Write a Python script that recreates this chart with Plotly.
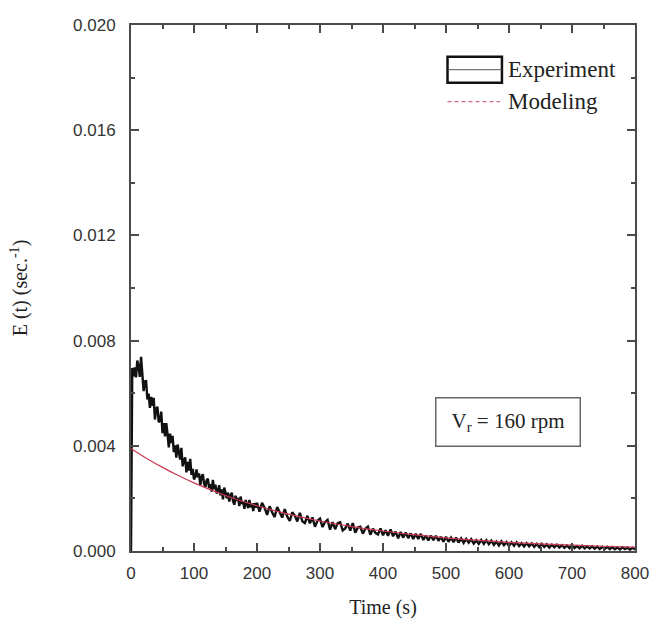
import plotly.graph_objects as go

# Residence time distribution E(t) at V_r = 160 rpm

# Experimental tracer response: sampling times (s) and E(t) (1/s)
exp_time = [0, 1] + list(range(2, 201, 2)) + list(range(204, 801, 4))
exp_e = [
    0.0000, 0.0063,
    # 2 .. 100 s
    0.00696, 0.00664, 0.00698, 0.00660, 0.00724, 0.00704, 0.00662, 0.00738, 0.00648, 0.00608,
    0.00645, 0.00646, 0.00576, 0.00598, 0.00544, 0.00586, 0.00552, 0.00582, 0.00500, 0.00542,
    0.00548, 0.00490, 0.00496, 0.00530, 0.00448, 0.00486, 0.00436, 0.00486, 0.00444, 0.00394,
    0.00446, 0.00410, 0.00438, 0.00376, 0.00402, 0.00355, 0.00405, 0.00381, 0.00348, 0.00392,
    0.00322, 0.00344, 0.00356, 0.00299, 0.00339, 0.00306, 0.00350, 0.00289, 0.00312, 0.00272,
    # 102 .. 200 s
    0.00283, 0.00310, 0.00280, 0.00295, 0.00250, 0.00282, 0.00292, 0.00256, 0.00243, 0.00268,
    0.00275, 0.00239, 0.00254, 0.00226, 0.00270, 0.00235, 0.00252, 0.00219, 0.00228, 0.00250,
    0.00212, 0.00234, 0.00196, 0.00241, 0.00220, 0.00201, 0.00222, 0.00188, 0.00210, 0.00222,
    0.00189, 0.00176, 0.00210, 0.00191, 0.00202, 0.00171, 0.00207, 0.00179, 0.00188, 0.00160,
    0.00194, 0.00181, 0.00163, 0.00194, 0.00166, 0.00181, 0.00152, 0.00182, 0.00165, 0.00183,
    # 204 .. 800 s
    0.00150, 0.00183, 0.00165, 0.00137, 0.00170, 0.00147, 0.00129, 0.00167, 0.00149, 0.00127,
    0.00159, 0.00131, 0.00114, 0.00147, 0.00135, 0.00112, 0.00145, 0.00113, 0.00106, 0.00134,
    0.00105, 0.00128, 0.00092, 0.00115, 0.00123, 0.00091, 0.00110, 0.00118, 0.00081, 0.00110,
    0.00083, 0.00106, 0.00109, 0.00078, 0.00086, 0.00104, 0.00078, 0.00106, 0.00070, 0.00089,
    0.00092, 0.00066, 0.00085, 0.00093, 0.00062, 0.00085, 0.00069, 0.00063, 0.00086, 0.00060,
    0.00079, 0.00058, 0.00082, 0.00056, 0.00074, 0.00048, 0.00072, 0.00051, 0.00070, 0.00049,
    0.00067, 0.00046, 0.00065, 0.00046, 0.00065, 0.00042, 0.00059, 0.00040, 0.00059, 0.00041,
    0.00058, 0.00039, 0.00054, 0.00035, 0.00054, 0.00035, 0.00051, 0.00034, 0.00051, 0.00032,
    0.00048, 0.00031, 0.00046, 0.00032, 0.00045, 0.00028, 0.00041, 0.00027, 0.00042, 0.00027,
    0.00041, 0.00026, 0.00039, 0.00023, 0.00036, 0.00021, 0.00037, 0.00022, 0.00034, 0.00019,
    0.00033, 0.00020, 0.00033, 0.00019, 0.00030, 0.00017, 0.00030, 0.00018, 0.00029, 0.00016,
    0.00027, 0.00015, 0.00027, 0.00015, 0.00025, 0.00013, 0.00024, 0.00014, 0.00024, 0.00013,
    0.00022, 0.00012, 0.00021, 0.00011, 0.00023, 0.00011, 0.00019, 0.00010, 0.00020, 0.00010,
    0.00018, 0.00010, 0.00018, 0.00009, 0.00017, 0.00007, 0.00016, 0.00008, 0.00016, 0.00007,
    0.00015, 0.00007, 0.00013, 0.00006, 0.00014, 0.00007, 0.00013, 0.00005, 0.00012, 0.00006,
]

# Model prediction
model_time = [0, 25, 50, 75, 100, 150, 200, 250, 300, 350, 400,
              450, 500, 550, 600, 650, 700, 750, 800]
model_e = [0.0039, 0.00352, 0.00318, 0.00287, 0.00259, 0.00211, 0.00172, 0.00140,
           0.00114, 0.00093, 0.00076, 0.00062, 0.00050, 0.00041, 0.00033,
           0.00027, 0.00022, 0.00018, 0.00015]

x_ticks = [0, 100, 200, 300, 400, 500, 600, 700, 800]
y_ticks = [0.000, 0.004, 0.008, 0.012, 0.016, 0.020]

SERIF = "Liberation Serif, Times New Roman, serif"
SANS = "Liberation Sans, Arial, sans-serif"
AXIS_COLOR = "#4a4a4a"
RED = "#cc3a55"

fig = go.Figure()
fig.add_trace(go.Scatter(x=exp_time, y=exp_e, mode="lines",
                         line=dict(color="#111111", width=2.4),
                         name="Experiment", showlegend=False))
fig.add_trace(go.Scatter(x=model_time, y=model_e, mode="lines", line_shape="spline",
                         line=dict(color=RED, width=1.2),
                         name="Modeling", showlegend=False))

axis_common = dict(
    showline=True, linecolor=AXIS_COLOR, linewidth=2, mirror="ticks",
    ticks="inside", tickcolor=AXIS_COLOR, tickwidth=1.5, ticklen=8,
    showgrid=False, zeroline=False,
    tickfont=dict(family=SANS, size=17, color="#333333"),
)

fig.update_xaxes(
    range=[0, 800], tickvals=x_ticks, ticktext=[str(v) for v in x_ticks],
    minor=dict(ticks="inside", dtick=50, ticklen=4, tickcolor=AXIS_COLOR, tickwidth=1.5),
    title=dict(text="Time (s)", font=dict(family=SERIF, size=20, color="#222222"), standoff=18),
    ticklabelstandoff=6,
    **axis_common,
)
fig.update_yaxes(
    range=[0, 0.020], tickvals=y_ticks, ticktext=[f"{v:.3f}" for v in y_ticks],
    minor=dict(ticks="inside", dtick=0.002, ticklen=4, tickcolor=AXIS_COLOR, tickwidth=1.5),
    title=dict(text="E (t) (sec.<sup>-1</sup>)", font=dict(family=SERIF, size=20, color="#222222"),
               standoff=40),
    ticklabelstandoff=10,
    **axis_common,
)

# Legend drawn in paper coordinates
shapes = [
    dict(type="rect", xref="paper", yref="paper", x0=0.628, x1=0.736, y0=0.890, y1=0.9395,
         line=dict(color="#111111", width=2.5)),
    dict(type="line", xref="paper", yref="paper", x0=0.628, x1=0.736, y0=0.915, y1=0.915,
         line=dict(color="#555555", width=1)),
    dict(type="line", xref="paper", yref="paper", x0=0.628, x1=0.732, y0=0.8544, y1=0.8544,
         line=dict(color="#d46a7e", width=1.2, dash="4px,3px")),
]
annotations = [
    dict(text="Experiment", xref="paper", yref="paper", x=0.744, y=0.915,
         xanchor="left", yanchor="middle", showarrow=False,
         font=dict(family=SERIF, size=23, color="#222222")),
    dict(text="Modeling", xref="paper", yref="paper", x=0.744, y=0.855,
         xanchor="left", yanchor="middle", showarrow=False,
         font=dict(family=SERIF, size=23, color="#222222")),
    dict(text="V<sub>r</sub> = 160 rpm", xref="paper", yref="paper", x=0.7485, y=0.2457,
         xanchor="center", yanchor="middle", showarrow=False,
         width=139, height=43, borderpad=2, bordercolor="#666666", borderwidth=1.5,
         bgcolor="white", font=dict(family=SERIF, size=21, color="#222222")),
]

fig.update_layout(
    width=661, height=627,
    margin=dict(l=131, r=19, t=25, b=73),
    paper_bgcolor="white", plot_bgcolor="white",
    shapes=shapes, annotations=annotations,
    showlegend=False,
)

fig.write_html("out.html")
